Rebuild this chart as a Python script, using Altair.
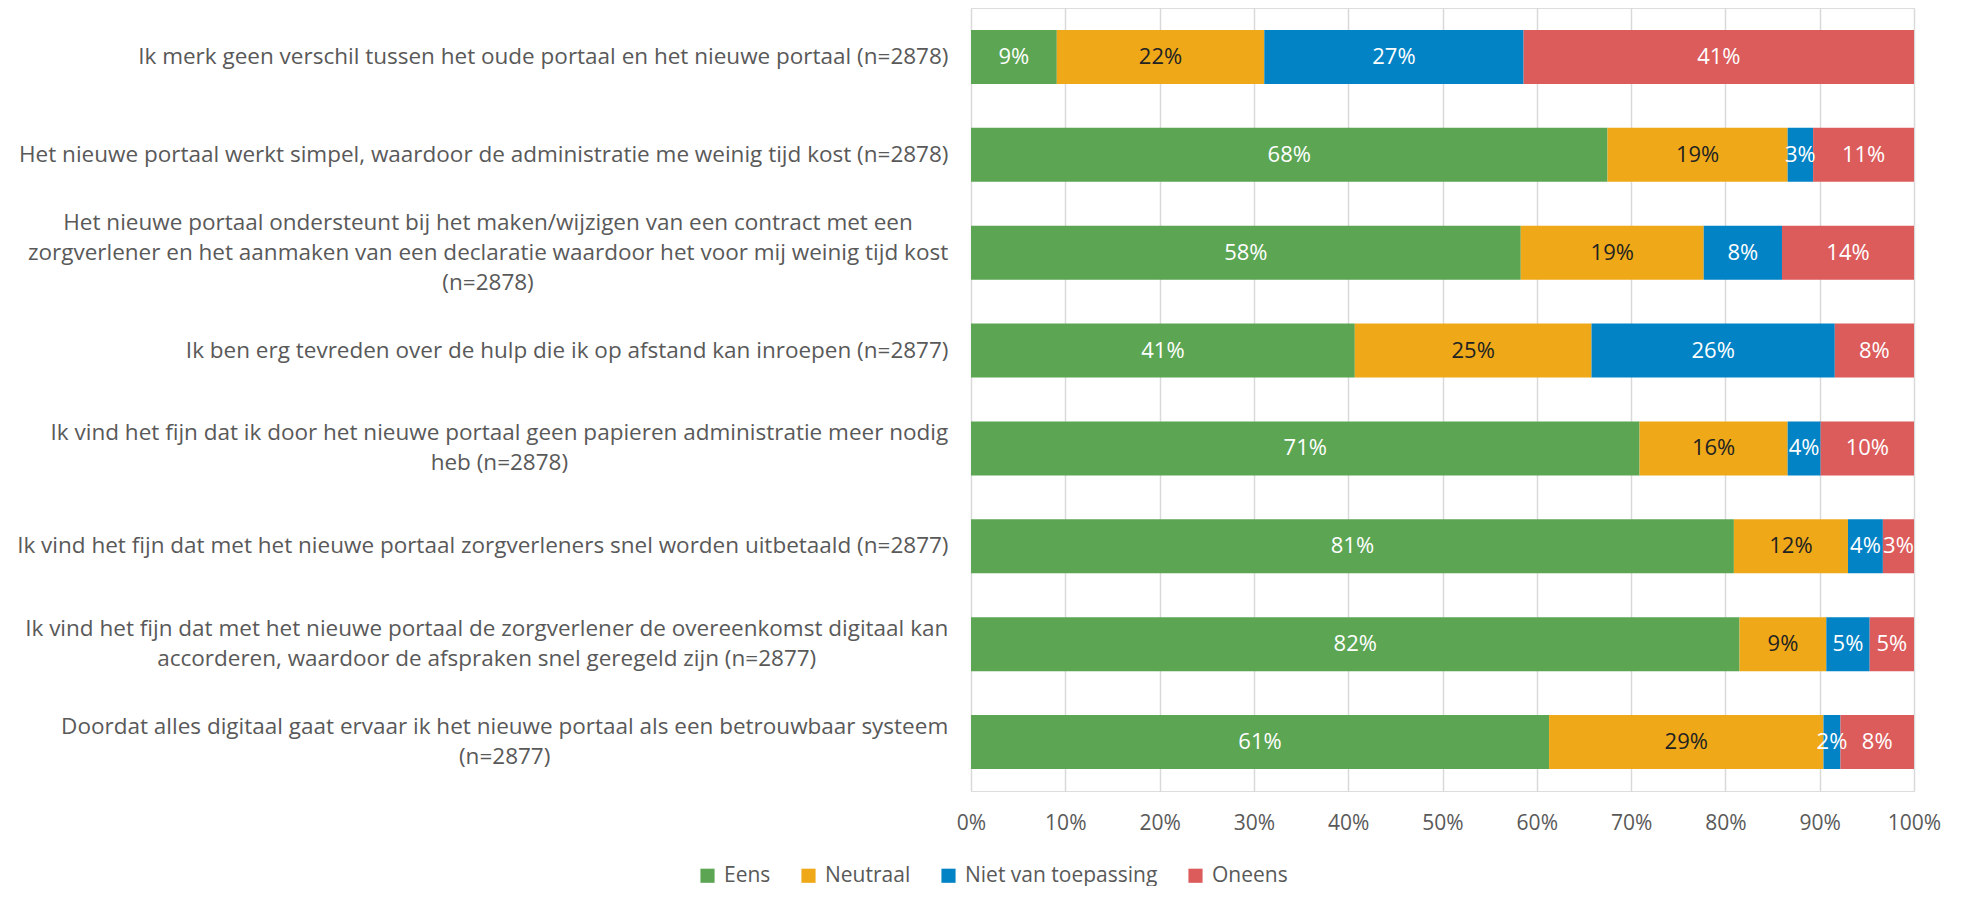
import altair as alt
import pandas as pd
import glob
import json
import struct

categories = [
    "Ik merk geen verschil tussen het oude portaal en het nieuwe portaal (n=2878)",
    "Het nieuwe portaal werkt simpel, waardoor de administratie me weinig tijd kost (n=2878)",
    "Het nieuwe portaal ondersteunt bij het maken/wijzigen van een contract met een\nzorgverlener en het aanmaken van een declaratie waardoor het voor mij weinig tijd kost\n(n=2878)",
    "Ik ben erg tevreden over de hulp die ik op afstand kan inroepen (n=2877)",
    "Ik vind het fijn dat ik door het nieuwe portaal geen papieren administratie meer nodig\nheb (n=2878)",
    "Ik vind het fijn dat met het nieuwe portaal zorgverleners snel worden uitbetaald (n=2877)",
    "Ik vind het fijn dat met het nieuwe portaal de zorgverlener de overeenkomst digitaal kan\naccorderen, waardoor de afspraken snel geregeld zijn (n=2877)",
    "Doordat alles digitaal gaat ervaar ik het nieuwe portaal als een betrouwbaar systeem\n(n=2877)",
]

series_names = ["Eens", "Neutraal", "Niet van toepassing", "Oneens"]
series_colors = ["#5BA553", "#EFA918", "#0283C6", "#DC5B5B"]
text_colors = ["#FFFFFF", "#222222", "#FFFFFF", "#FFFFFF"]

eens = [9.1, 67.5, 58.3, 40.7, 70.9, 80.9, 81.5, 61.3]
neutraal = [22.0, 19.1, 19.4, 25.1, 15.7, 12.1, 9.2, 29.1]
niet_van_toepassing = [27.5, 2.7, 8.3, 25.8, 3.5, 3.7, 4.6, 1.8]
oneens = [41.4, 10.7, 14.0, 8.4, 9.9, 3.3, 4.7, 7.8]

# printed labels (percent)
eens_lbl = [9, 68, 58, 41, 71, 81, 82, 61]
neutraal_lbl = [22, 19, 19, 25, 16, 12, 9, 29]
niet_lbl = [27, 3, 8, 26, 4, 4, 5, 2]
oneens_lbl = [41, 11, 14, 8, 10, 3, 5, 8]

all_vals = [eens, neutraal, niet_van_toepassing, oneens]
all_lbls = [eens_lbl, neutraal_lbl, niet_lbl, oneens_lbl]

rows = []
for si, name in enumerate(series_names):
    for ci, cat in enumerate(categories):
        rows.append({
            "cat": cat,
            "series": name,
            "order": si,
            "value": all_vals[si][ci],
            "label": f"{all_lbls[si][ci]}%",
            "tcolor": text_colors[si],
        })
df = pd.DataFrame(rows)

FONT = "Open Sans"
LABEL_SIZE = 22.5
LINE_H = 30
LABEL_PAD = 23


# --- text width measurement from the installed Open Sans font (for centring wrapped lines)
def make_measure():
    paths = glob.glob("/usr/share/fonts/**/OpenSans*.ttf", recursive=True)
    paths += glob.glob("/usr/local/share/fonts/**/OpenSans*.ttf", recursive=True)
    def rank(p):
        n = p.lower()
        if any(k in n for k in ("italic", "bold", "semibold", "light", "condensed", "extra", "medium")):
            return 9
        if "regular" in n:
            return 0
        return 1
    paths = sorted(paths, key=rank)
    if not paths or rank(paths[0]) == 9:
        return None
    data = open(paths[0], "rb").read()
    ntab = struct.unpack(">H", data[4:6])[0]
    tables = {}
    for i in range(ntab):
        tag, _, off, ln = struct.unpack(">4sIII", data[12 + 16 * i:28 + 16 * i])
        tables[tag.decode("latin1")] = off
    upem = struct.unpack(">H", data[tables["head"] + 18:tables["head"] + 20])[0]
    nhm = struct.unpack(">H", data[tables["hhea"] + 34:tables["hhea"] + 36])[0]
    hmtx = tables["hmtx"]
    cm = tables["cmap"]
    nsub = struct.unpack(">H", data[cm + 2:cm + 4])[0]
    sub = None
    for i in range(nsub):
        pid, eid, off = struct.unpack(">HHI", data[cm + 4 + 8 * i:cm + 12 + 8 * i])
        fmt = struct.unpack(">H", data[cm + off:cm + off + 2])[0]
        if fmt == 4:
            sub = cm + off
            break
    if sub is None:
        return None
    segx2 = struct.unpack(">H", data[sub + 6:sub + 8])[0]
    seg = segx2 // 2
    ends = struct.unpack(f">{seg}H", data[sub + 14:sub + 14 + segx2])
    so = sub + 16 + segx2
    starts = struct.unpack(f">{seg}H", data[so:so + segx2])
    do = so + segx2
    deltas = struct.unpack(f">{seg}h", data[do:do + segx2])
    ro = do + segx2
    ranges = struct.unpack(f">{seg}H", data[ro:ro + segx2])

    def gid(c):
        for i in range(seg):
            if ends[i] >= c:
                if starts[i] > c:
                    return 0
                if ranges[i] == 0:
                    return (c + deltas[i]) & 0xFFFF
                addr = ro + 2 * i + ranges[i] + 2 * (c - starts[i])
                g = struct.unpack(">H", data[addr:addr + 2])[0]
                return (g + deltas[i]) & 0xFFFF if g else 0
        return 0

    def adv(g):
        g = min(g, nhm - 1)
        return struct.unpack(">H", data[hmtx + 4 * g:hmtx + 4 * g + 2])[0]

    def measure(text, size):
        return sum(adv(gid(ord(ch))) for ch in text) / upem * size
    return measure


try:
    measure = make_measure()
except Exception:
    measure = None

half_widths = []
for cat in categories:
    lines = cat.split("\n")
    if measure is not None and len(lines) > 1:
        half_widths.append(round(max(measure(l, LABEL_SIZE) for l in lines) / 2, 2))
    else:
        half_widths.append(0)

cats_js = json.dumps(categories)
hw_js = json.dumps(half_widths)
idx_expr = f"indexof({cats_js}, datum.value)"
align_expr = f"{hw_js}[{idx_expr}] > 0 ? 'center' : 'right'"
pad_expr = f"{LABEL_PAD} + {hw_js}[{idx_expr}]"

y_enc = alt.Y(
    "cat:N",
    sort=categories,
    scale=alt.Scale(paddingInner=0.448, paddingOuter=0.224),
    axis=alt.Axis(
        title=None,
        labelExpr="split(datum.label, '\\n')",
        labelFont=FONT,
        labelFontSize=LABEL_SIZE,
        labelColor="#595959",
        labelAlign={"expr": align_expr},
        labelPadding={"expr": pad_expr},
        labelLimit=1000,
        labelLineHeight=LINE_H,
        labelOffset={"expr": f"-(length(split(datum.value, '\\n')) - 1) * {LINE_H / 2}"},
        ticks=False,
        domain=False,
        minExtent=963,
        maxExtent=963,
    ),
)

x_scale = alt.Scale(domain=[0, 1], nice=False)

bars = alt.Chart(df).mark_bar().encode(
    y=y_enc,
    x=alt.X(
        "value:Q",
        stack="normalize",
        scale=x_scale,
        axis=alt.Axis(
            title=None,
            format=".0%",
            values=[0, 0.1, 0.2, 0.3, 0.4, 0.5, 0.6, 0.7, 0.8, 0.9, 1.0],
            grid=True,
            gridColor="#D9D9D9",
            gridWidth=1.5,
            domain=False,
            ticks=False,
            labelFlush=False,
            labelFont=FONT,
            labelFontSize=21,
            labelColor="#595959",
            labelPadding=21,
        ),
    ),
    color=alt.Color(
        "series:N",
        scale=alt.Scale(domain=series_names, range=series_colors),
        legend=alt.Legend(
            title=None,
            orient="none",
            direction="horizontal",
            legendX=-274,
            legendY=857,
            symbolType="square",
            symbolSize=200,
            symbolStrokeWidth=0,
            labelFont=FONT,
            labelFontSize=21,
            labelColor="#595959",
            labelOffset=6,
            labelLimit=400,
            columnPadding=27,
            padding=0,
        ),
    ),
    order=alt.Order("order:Q"),
)

texts = alt.Chart(df).transform_stack(
    stack="value",
    groupby=["cat"],
    as_=["v0", "v1"],
    offset="normalize",
    sort=[alt.SortField("order", order="ascending")],
).transform_calculate(
    mid="(datum.v0 + datum.v1) / 2"
).mark_text(font=FONT, fontSize=22, align="center", baseline="middle").encode(
    y=alt.Y("cat:N", sort=categories),
    x=alt.X("mid:Q", scale=x_scale),
    text="label:N",
    color=alt.Color("tcolor:N", scale=None),
)

chart = alt.layer(bars, texts).properties(
    width=943,
    height=783,
    padding={"left": 0, "top": 0, "right": 10, "bottom": 0},
).configure_view(stroke=None).configure(font=FONT)

chart.save("out.html", embed_options={"renderer": "svg", "actions": False})
